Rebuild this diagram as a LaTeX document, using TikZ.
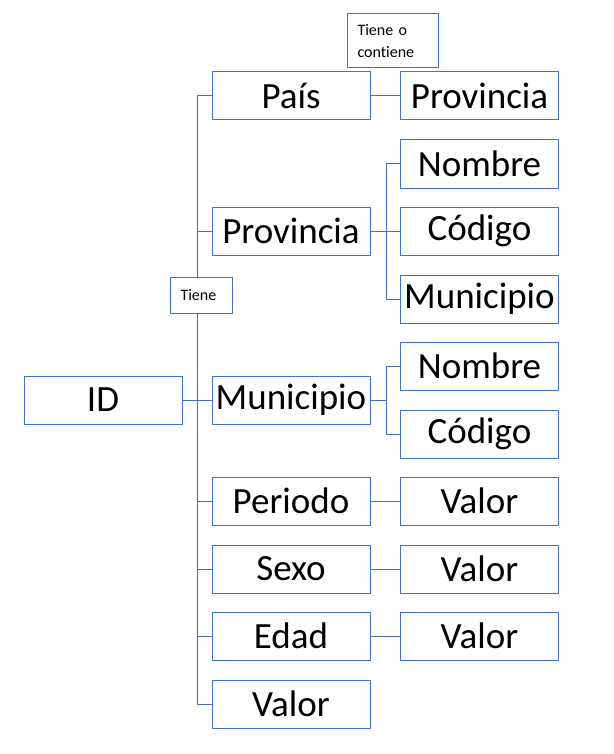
\documentclass[tikz,border=0pt]{standalone}
\usepackage{fontspec}
\setmainfont[Ligatures=NoCommon]{Carlito}
\definecolor{boxblue}{HTML}{4472C4}
\definecolor{lineblue}{HTML}{4A6FB5}
\begin{document}
\begin{tikzpicture}[x=1pt,y=-1pt,
  bigbox/.style={draw=boxblue,line width=1pt,fill=white,rectangle,minimum width=158pt,minimum height=48pt,inner sep=0pt,font=\fontsize{37}{40}\selectfont},
  notebox/.style={draw=boxblue,line width=1pt,fill=white,rectangle,inner xsep=10.5pt,inner ysep=0pt,align=left,font=\fontsize{16}{22}\selectfont},
  conn/.style={draw=lineblue,line width=1pt}]
\useasboundingbox (0,0) rectangle (613,754);
% left column
\node[bigbox] (id) at (103,400) {ID};
\node[bigbox] (pais) at (291,96) {País};
\node[bigbox] (prov) at (291,231) {Provincia};
\node[bigbox] (muni) at (291,400) {Municipio};
\node[bigbox] (peri) at (291,501) {Periodo};
\node[bigbox] (sexo) at (291,569) {Sexo};
\node[bigbox] (edad) at (291,636) {Edad};
\node[bigbox] (valor) at (291,704) {Valor};
% right column
\node[bigbox] (paisprov) at (479.5,96) {Provincia};
\node[bigbox] (pnom) at (479.5,164) {Nombre};
\node[bigbox] (pcod) at (479.5,231) {Código};
\node[bigbox] (pmun) at (479.5,299) {Municipio};
\node[bigbox] (mnom) at (479.5,366) {Nombre};
\node[bigbox] (mcod) at (479.5,434) {Código};
\node[bigbox] (pval) at (479.5,501) {Valor};
\node[bigbox] (sval) at (479.5,569) {Valor};
\node[bigbox] (eval) at (479.5,636) {Valor};
% trunk coordinates
\coordinate (tk) at (197,0);
\coordinate (tk2) at (386,0);
% main trunk
\draw[conn] (pais.west -| tk) -- (valor.west -| tk);
\foreach \n in {pais,prov,muni,peri,sexo,edad,valor}
  \draw[conn] (\n.west -| tk) -- (\n.west);
\draw[conn] (id.east) -- (id.east -| tk);
% second level
\draw[conn] (pais.east) -- (paisprov.west);
\draw[conn] (pnom.west -| tk2) -- (pmun.west -| tk2);
\draw[conn] (prov.east) -- (prov.east -| tk2);
\foreach \n in {pnom,pcod,pmun}
  \draw[conn] (\n.west -| tk2) -- (\n.west);
\draw[conn] (mnom.west -| tk2) -- (mcod.west -| tk2);
\draw[conn] (muni.east) -- (muni.east -| tk2);
\foreach \n in {mnom,mcod}
  \draw[conn] (\n.west -| tk2) -- (\n.west);
\draw[conn] (peri.east) -- (pval.west);
\draw[conn] (sexo.east) -- (sval.west);
\draw[conn] (edad.east) -- (eval.west);
% notes
\node[notebox,minimum width=62pt,minimum height=36pt,text width=41pt] (tiene) at (201,295) {Tiene};
\node[notebox,minimum width=91pt,minimum height=54pt,text width=70pt] (tc) at (392.5,41) {Tiene o\\contiene};
\end{tikzpicture}
\end{document}
